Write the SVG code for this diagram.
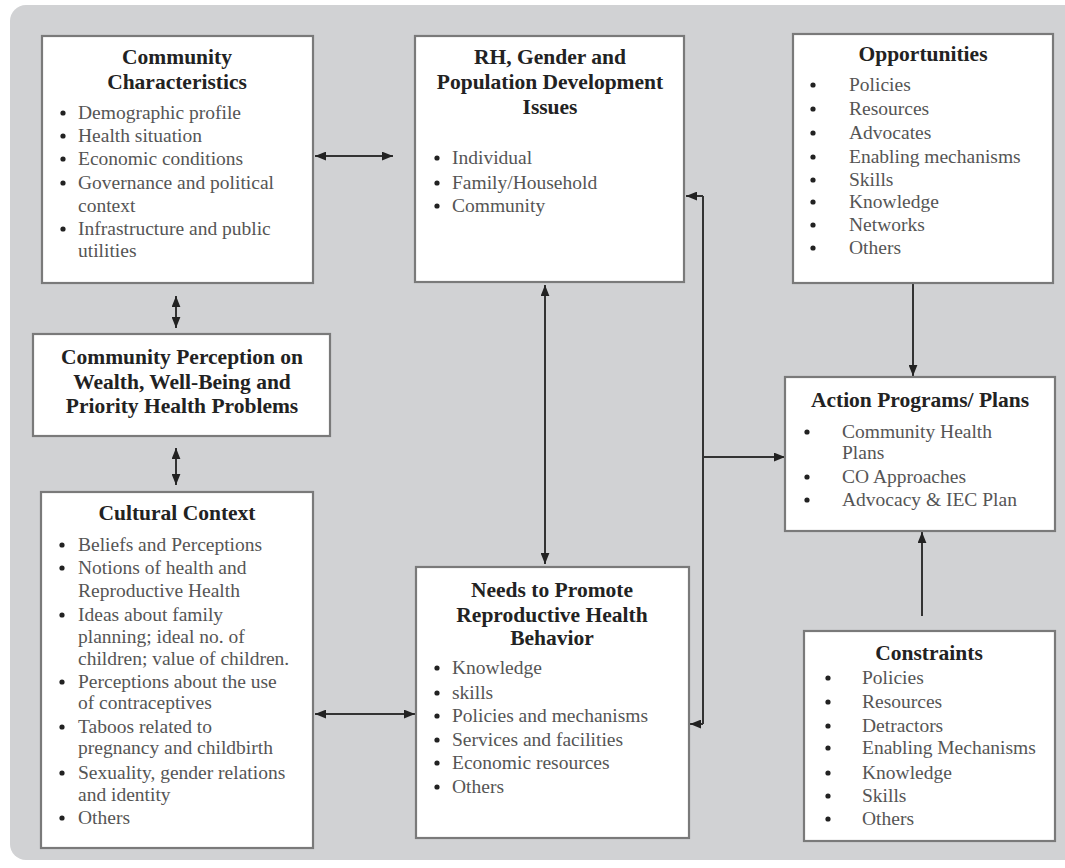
<svg xmlns="http://www.w3.org/2000/svg" width="1065" height="868" viewBox="0 0 1065 868">
<defs>
<style>
.box{fill:#ffffff;stroke:#7a7a7a;stroke-width:2.2}
.t{font-family:"Liberation Serif","Times New Roman",serif;font-weight:bold;font-size:21.5px;fill:#222;text-anchor:middle}
.i{font-family:"Liberation Serif","Times New Roman",serif;font-size:19.5px;fill:#555}
.b{fill:#222}
.c{fill:none;stroke:#333;stroke-width:2}
</style>
<marker id="ah" viewBox="0 0 10 8" refX="10" refY="4" markerWidth="11" markerHeight="9" markerUnits="userSpaceOnUse" orient="auto-start-reverse">
<path d="M0,0 L10,4 L0,8 z" fill="#222"/>
</marker>
</defs>
<rect x="0" y="0" width="1065" height="868" fill="#ffffff"/>
<rect x="10" y="5" width="1075" height="855" rx="16" fill="#d1d2d4"/>

<g id="connectors">
<line class="c" x1="315" y1="156" x2="393" y2="156" marker-start="url(#ah)" marker-end="url(#ah)"/>
<line class="c" x1="176" y1="296" x2="176" y2="328" marker-start="url(#ah)" marker-end="url(#ah)"/>
<line class="c" x1="176" y1="448" x2="176" y2="485" marker-start="url(#ah)" marker-end="url(#ah)"/>
<line class="c" x1="545" y1="285" x2="545" y2="564" marker-start="url(#ah)" marker-end="url(#ah)"/>
<line class="c" x1="315" y1="714" x2="415" y2="714" marker-start="url(#ah)" marker-end="url(#ah)"/>
<path class="c" d="M703,196 V724" />
<line class="c" x1="703" y1="196" x2="686" y2="196" marker-end="url(#ah)"/>
<line class="c" x1="703" y1="724" x2="690" y2="724" marker-end="url(#ah)"/>
<line class="c" x1="703" y1="457" x2="785" y2="457" marker-end="url(#ah)"/>
<line class="c" x1="913" y1="284" x2="913" y2="376" marker-end="url(#ah)"/>
<line class="c" x1="922" y1="616" x2="922" y2="532" marker-end="url(#ah)"/>
</g>

<g id="community-characteristics">
<rect class="box" x="42" y="36" width="271" height="247"/>
<text class="t" x="177" y="64">Community</text>
<text class="t" x="177" y="89">Characteristics</text>
<circle class="b" cx="63" cy="113" r="2.6"/><text class="i" x="78" y="119">Demographic profile</text>
<circle class="b" cx="63" cy="136" r="2.6"/><text class="i" x="78" y="142">Health situation</text>
<circle class="b" cx="63" cy="159" r="2.6"/><text class="i" x="78" y="165">Economic conditions</text>
<circle class="b" cx="63" cy="183" r="2.6"/><text class="i" x="78" y="189">Governance and political</text>
<text class="i" x="78" y="212">context</text>
<circle class="b" cx="63" cy="229" r="2.6"/><text class="i" x="78" y="235">Infrastructure and  public</text>
<text class="i" x="78" y="257">utilities</text>
</g>

<g id="rh-gender">
<rect class="box" x="415" y="36" width="269" height="246"/>
<text class="t" x="550" y="64">RH, Gender and</text>
<text class="t" x="550" y="89">Population Development</text>
<text class="t" x="550" y="114">Issues</text>
<circle class="b" cx="437" cy="158" r="2.6"/><text class="i" x="452" y="164">Individual</text>
<circle class="b" cx="437" cy="183" r="2.6"/><text class="i" x="452" y="189">Family/Household</text>
<circle class="b" cx="437" cy="206" r="2.6"/><text class="i" x="452" y="212">Community</text>
</g>

<g id="opportunities">
<rect class="box" x="793" y="34" width="260" height="249"/>
<text class="t" x="923" y="61">Opportunities</text>
<circle class="b" cx="813" cy="85" r="2.6"/><text class="i" x="849" y="91">Policies</text>
<circle class="b" cx="813" cy="109" r="2.6"/><text class="i" x="849" y="115">Resources</text>
<circle class="b" cx="813" cy="133" r="2.6"/><text class="i" x="849" y="139">Advocates</text>
<circle class="b" cx="813" cy="157" r="2.6"/><text class="i" x="849" y="163">Enabling mechanisms</text>
<circle class="b" cx="813" cy="180" r="2.6"/><text class="i" x="849" y="186">Skills</text>
<circle class="b" cx="813" cy="202" r="2.6"/><text class="i" x="849" y="208">Knowledge</text>
<circle class="b" cx="813" cy="225" r="2.6"/><text class="i" x="849" y="231">Networks</text>
<circle class="b" cx="813" cy="248" r="2.6"/><text class="i" x="849" y="254">Others</text>
</g>

<g id="community-perception">
<rect class="box" x="33" y="334" width="297" height="102"/>
<text class="t" x="182" y="364">Community Perception on</text>
<text class="t" x="182" y="389">Wealth, Well-Being and</text>
<text class="t" x="182" y="413">Priority Health Problems</text>
</g>

<g id="cultural-context">
<rect class="box" x="41" y="492" width="272" height="356"/>
<text class="t" x="177" y="520">Cultural Context</text>
<circle class="b" cx="62" cy="545" r="2.6"/><text class="i" x="78" y="551">Beliefs and Perceptions</text>
<circle class="b" cx="62" cy="568" r="2.6"/><text class="i" x="78" y="574">Notions of health and</text>
<text class="i" x="78" y="597">Reproductive Health</text>
<circle class="b" cx="62" cy="615" r="2.6"/><text class="i" x="78" y="621">Ideas about  family</text>
<text class="i" x="78" y="643">planning; ideal no. of</text>
<text class="i" x="78" y="665">children; value of children.</text>
<circle class="b" cx="62" cy="682" r="2.6"/><text class="i" x="78" y="688">Perceptions about the use</text>
<text class="i" x="78" y="709">of contraceptives</text>
<circle class="b" cx="62" cy="727" r="2.6"/><text class="i" x="78" y="733">Taboos related to</text>
<text class="i" x="78" y="754">pregnancy and childbirth</text>
<circle class="b" cx="62" cy="773" r="2.6"/><text class="i" x="78" y="779">Sexuality, gender relations</text>
<text class="i" x="78" y="801">and identity</text>
<circle class="b" cx="62" cy="818" r="2.6"/><text class="i" x="78" y="824">Others</text>
</g>

<g id="needs">
<rect class="box" x="416" y="567" width="273" height="271"/>
<text class="t" x="552" y="597">Needs to Promote</text>
<text class="t" x="552" y="622">Reproductive Health</text>
<text class="t" x="552" y="645">Behavior</text>
<circle class="b" cx="437" cy="668" r="2.6"/><text class="i" x="452" y="674">Knowledge</text>
<circle class="b" cx="437" cy="693" r="2.6"/><text class="i" x="452" y="699">skills</text>
<circle class="b" cx="437" cy="716" r="2.6"/><text class="i" x="452" y="722">Policies and mechanisms</text>
<circle class="b" cx="437" cy="740" r="2.6"/><text class="i" x="452" y="746">Services and  facilities</text>
<circle class="b" cx="437" cy="763" r="2.6"/><text class="i" x="452" y="769">Economic  resources</text>
<circle class="b" cx="437" cy="787" r="2.6"/><text class="i" x="452" y="793">Others</text>
</g>

<g id="action-programs">
<rect class="box" x="785" y="377" width="270" height="154"/>
<text class="t" x="920" y="407">Action Programs/  Plans</text>
<circle class="b" cx="807" cy="432" r="2.6"/><text class="i" x="842" y="438">Community Health</text>
<text class="i" x="842" y="459">Plans</text>
<circle class="b" cx="807" cy="477" r="2.6"/><text class="i" x="842" y="483">CO Approaches</text>
<circle class="b" cx="807" cy="500" r="2.6"/><text class="i" x="842" y="506">Advocacy &amp; IEC Plan</text>
</g>

<g id="constraints">
<rect class="box" x="804" y="631" width="251" height="210"/>
<text class="t" x="929" y="660">Constraints</text>
<circle class="b" cx="828" cy="678" r="2.6"/><text class="i" x="862" y="684">Policies</text>
<circle class="b" cx="828" cy="702" r="2.6"/><text class="i" x="862" y="708">Resources</text>
<circle class="b" cx="828" cy="726" r="2.6"/><text class="i" x="862" y="732">Detractors</text>
<circle class="b" cx="828" cy="748" r="2.6"/><text class="i" x="862" y="754">Enabling Mechanisms</text>
<circle class="b" cx="828" cy="773" r="2.6"/><text class="i" x="862" y="779">Knowledge</text>
<circle class="b" cx="828" cy="796" r="2.6"/><text class="i" x="862" y="802">Skills</text>
<circle class="b" cx="828" cy="819" r="2.6"/><text class="i" x="862" y="825">Others</text>
</g>
</svg>
